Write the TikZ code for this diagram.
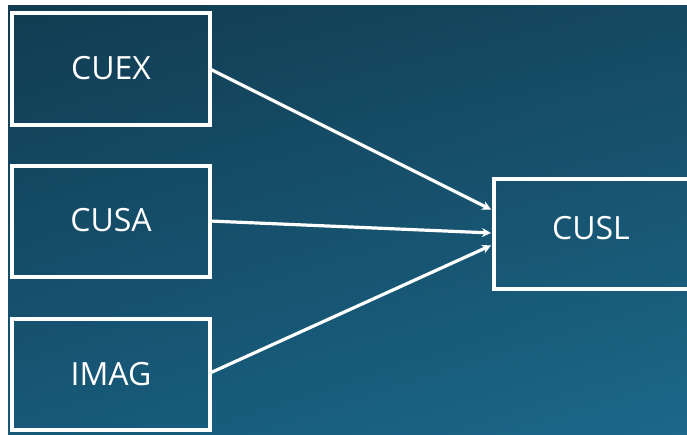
\documentclass[tikz,border=0pt]{standalone}
\usepackage{fontspec}
\setmainfont{Open Sans}
\usetikzlibrary{arrows.meta,shadings}
\definecolor{bgTL}{HTML}{113C51}
\definecolor{bgTR}{HTML}{154861}
\definecolor{bgBL}{HTML}{175878}
\definecolor{bgBR}{HTML}{1B6889}
\tikzset{
  box/.style={draw=white, line width=4pt, fill=none},
  lbl/.style={text=white, font=\fontsize{32}{36}\selectfont},
  link/.style={draw=white, line width=3.2pt, -{Stealth[length=9pt,width=9pt]}, shorten >=1pt}
}
\begin{document}
\begin{tikzpicture}[x=1pt,y=-1pt]
\useasboundingbox (0,0) rectangle (687,434);
\fill[white] (0,0) rectangle (687,434);
\shade[upper left=bgTL, upper right=bgTR, lower left=bgBL, lower right=bgBR] (8,5) rectangle (687,434);
\begin{scope}
\clip (8,5) rectangle (687,434);
\draw[box] (12,13) rectangle (210,125);
\node[lbl] (cuex) at (111,68.5) {CUEX};
\draw[box] (12,166) rectangle (210,277);
\node[lbl] (cusa) at (111,220) {CUSA};
\draw[box] (12,319) rectangle (210,430);
\node[lbl] (imag) at (111,374) {IMAG};
\draw[box] (494,179) rectangle (700,289);
\node[lbl] (cusl) at (591,228) {CUSL};
\coordinate (eA) at (210,69);
\coordinate (eB) at (210,221);
\coordinate (eC) at (210,373);
\coordinate (tA) at (492,210);
\coordinate (tB) at (492,233);
\coordinate (tC) at (492,245);
\draw[link] (eA) -- (tA);
\draw[link] (eB) -- (tB);
\draw[link] (eC) -- (tC);
\end{scope}
\end{tikzpicture}
\end{document}
